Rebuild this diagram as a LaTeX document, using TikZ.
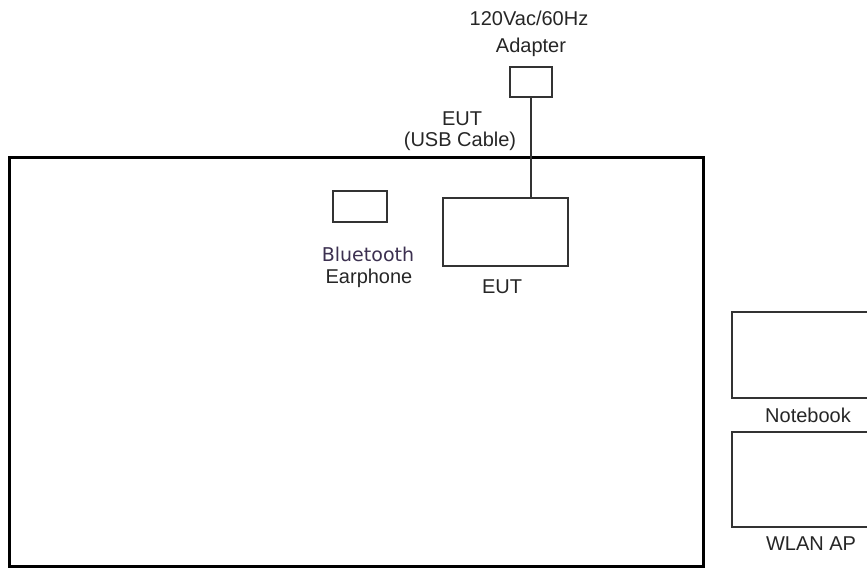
\documentclass[tikz,border=0pt]{standalone}
\usepackage{fontspec}
\setmainfont{Liberation Sans}
\newfontfamily\btfont{DejaVu Sans}
\definecolor{btcol}{HTML}{3C3050}
\begin{document}
\begin{tikzpicture}[x=1pt,y=-1pt,
  thinbox/.style={draw=black!80, line width=1.5pt},
  lbl/.style={anchor=base, inner sep=0pt, text=black!85, font=\fontsize{20}{22}\selectfont}]
\useasboundingbox (0,0) rectangle (867,571);
% room
\draw[line width=3pt, black] (9,157) rectangle (703,566);
% adapter
\node[thinbox, minimum width=42pt, minimum height=30pt, inner sep=0pt] (adapter) at (531,82) {};
% EUT
\node[thinbox, minimum width=125pt, minimum height=68pt, inner sep=0pt] (eut) at (505.5,232) {};
% earphone
\node[thinbox, minimum width=54pt, minimum height=31pt, inner sep=0pt] (ear) at (360,206.5) {};
% notebook and AP (cut at right edge)
\begin{scope}
\clip (0,0) rectangle (867,571);
\node[thinbox, minimum width=140pt, minimum height=86pt, inner sep=0pt] (nb) at (802,355) {};
\node[thinbox, minimum width=140pt, minimum height=95pt, inner sep=0pt] (ap) at (802,479.5) {};
\end{scope}
% cable
\draw[black!80, line width=1.5pt] (adapter.south) -- (adapter.south |- eut.north);
% labels
\node[lbl] (t1) at (529,25) {120Vac/60Hz};
\node[lbl] (t2) at (531,52) {Adapter};
\node[lbl] (t3) at (462,125) {EUT};
\node[lbl] (t4) at (460,146) {(USB Cable)};
\node[lbl, font=\btfont\fontsize{19}{21}\selectfont, text=btcol] (t5) at (368,261) {Bluetooth};
\node[lbl] (t6) at (369,283) {Earphone};
\node[lbl] (t7) at (502,293) {EUT};
\node[lbl] (t8) at (808,422) {Notebook};
\node[lbl] (t9) at (811,550) {WLAN AP};
\end{tikzpicture}
\end{document}
